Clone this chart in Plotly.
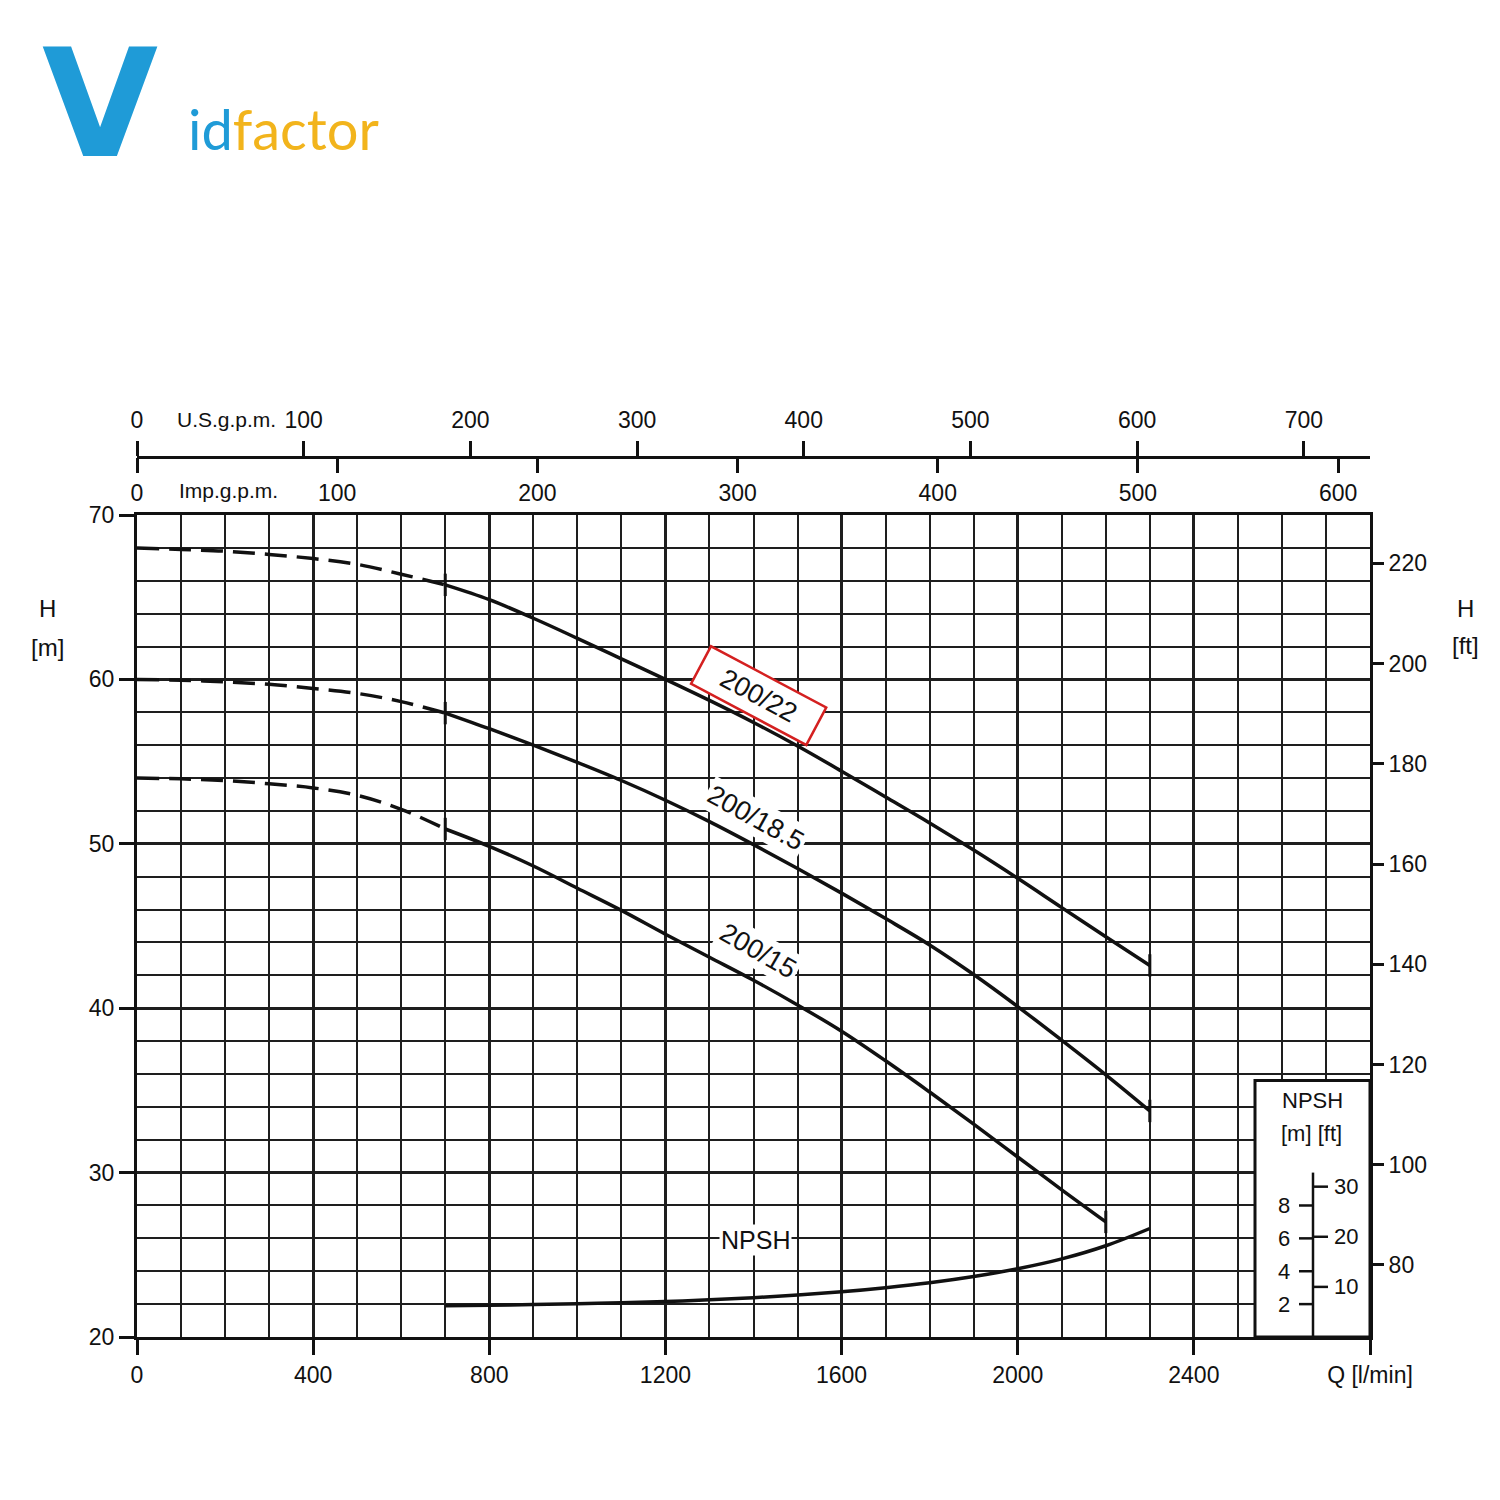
import plotly.graph_objects as go

# ---------------- data ----------------
LPM_PER_USGAL = 3.785411784
LPM_PER_IMPGAL = 4.54609
FT_PER_M = 3.28084

q_ext = [0, 100, 200, 300, 400, 500, 600, 700]
h22_ext = [68.0, 67.9, 67.8, 67.6, 67.35, 67.0, 66.4, 65.75]
h185_ext = [60.0, 59.95, 59.85, 59.7, 59.45, 59.15, 58.65, 57.95]
h15_ext = [54.0, 53.95, 53.85, 53.65, 53.4, 52.95, 52.1, 50.9]

q_op = [700, 800, 900, 1000, 1100, 1200, 1300, 1400, 1500, 1600,
        1700, 1800, 1900, 2000, 2100, 2200, 2300]
h22_op = [65.75, 64.85, 63.72, 62.5, 61.25, 60.0, 58.72, 57.38, 55.95, 54.42,
          52.85, 51.27, 49.62, 47.9, 46.12, 44.35, 42.6]
h185_op = [57.95, 57.0, 56.0, 54.95, 53.85, 52.65, 51.35, 49.95, 48.5, 47.0,
           45.45, 43.85, 42.05, 40.1, 38.05, 35.95, 33.75]
q_op15 = [700, 800, 900, 1000, 1100, 1200, 1300, 1400, 1500, 1600,
          1700, 1800, 1900, 2000, 2100, 2200]
h15_op = [50.9, 49.85, 48.65, 47.3, 45.95, 44.5, 43.1, 41.7, 40.2, 38.6,
          36.8, 34.9, 32.95, 30.95, 28.95, 27.0]

npsh_m = [1.9, 1.93, 1.97, 2.02, 2.08, 2.16, 2.26, 2.39, 2.55, 2.75,
          3.0, 3.3, 3.68, 4.15, 4.75, 5.55, 6.6]

curve_names = ["200/22", "200/18.5", "200/15"]

q_ticks = [0, 400, 800, 1200, 1600, 2000, 2400, 2800]
q_ticktext = ["0", "400", "800", "1200", "1600", "2000", "2400", "Q [l/min]"]
h_ticks = [20, 30, 40, 50, 60, 70]
ft_ticks = [80, 100, 120, 140, 160, 180, 200, 220]
usg_ticks = [0, 100, 200, 300, 400, 500, 600, 700]
impg_ticks = [0, 100, 200, 300, 400, 500, 600]
npsh_m_ticks = [2, 4, 6, 8]
npsh_ft_ticks = [10, 20, 30]

Q_MAX = 2800
H_MIN, H_MAX = 20, 70

FONT = "Liberation Sans, Arial, sans-serif"
INK = "#111111"
GRID = "#1e1e1e"

fig = go.Figure()

ext_sets = [h22_ext, h185_ext, h15_ext]
op_sets = [(q_op, h22_op), (q_op, h185_op), (q_op15, h15_op)]

for name, hext, (qo, ho) in zip(curve_names, ext_sets, op_sets):
    fig.add_trace(go.Scatter(x=q_ext, y=hext, mode="lines",
                             line=dict(color=INK, width=3.5, dash="22px,10px", shape="spline", smoothing=1.0),
                             showlegend=False, hoverinfo="skip", name=name))
    fig.add_trace(go.Scatter(x=qo, y=ho, mode="lines",
                             line=dict(color=INK, width=3.5, shape="spline", smoothing=1.0),
                             showlegend=False, name=name))
    fig.add_trace(go.Scatter(x=[qo[0], qo[-1]], y=[ho[0], ho[-1]], mode="markers",
                             marker=dict(symbol="line-ns", size=16, line=dict(color=INK, width=3)),
                             showlegend=False, hoverinfo="skip"))

# NPSH curve (own scale in metres; NPSH 0 aligned with H = 20 m)
fig.add_trace(go.Scatter(x=q_op, y=npsh_m, mode="lines", yaxis="y3",
                         line=dict(color=INK, width=3.5, shape="spline", smoothing=1.0),
                         showlegend=False, name="NPSH"))

# empty traces so the secondary axes are drawn
fig.add_trace(go.Scatter(x=[None], y=[None], xaxis="x2", yaxis="y", showlegend=False, hoverinfo="skip"))
fig.add_trace(go.Scatter(x=[None], y=[None], xaxis="x3", yaxis="y", showlegend=False, hoverinfo="skip"))
fig.add_trace(go.Scatter(x=[None], y=[None], xaxis="x", yaxis="y2", showlegend=False, hoverinfo="skip"))

# page layout (browser body has an 8px margin)
OFF = 8
W, H = 1500 - OFF, 1500 - OFF
PLOT_L, PLOT_R, PLOT_T, PLOT_B = 137, 1370, 515, 1337   # page px
AXTOP = 457                                              # gpm axis line, page px
ML = PLOT_L - OFF
MR = W + OFF - PLOT_R
MT = AXTOP - OFF
MB = H + OFF - PLOT_B
PW = W - ML - MR
PH = H - MT - MB
ydom_top = (PLOT_B - PLOT_T) / PH


def px_x(px):
    return (px - PLOT_L) / PW


def px_y(py):
    return (PLOT_B - py) / PH


tickfont = dict(family=FONT, size=23, color=INK)

fig.update_layout(
    width=W, height=H,
    margin=dict(l=ML, r=MR, t=MT, b=MB, pad=0),
    paper_bgcolor="white", plot_bgcolor="white",
    showlegend=False,
    xaxis=dict(range=[0, Q_MAX], domain=[0, 1], tickmode="array", tickvals=q_ticks, ticktext=q_ticktext,
               ticks="outside", ticklen=15, tickwidth=2.5, tickcolor=INK, tickfont=tickfont,
               ticklabelstandoff=0,
               showgrid=True, gridcolor=GRID, gridwidth=3,
               minor=dict(dtick=100, tick0=0, showgrid=True, gridcolor=GRID, gridwidth=2.3, ticks=""),
               showline=True, mirror=True, linecolor=INK, linewidth=3, zeroline=False, anchor="y"),
    yaxis=dict(range=[H_MIN, H_MAX], domain=[0, ydom_top], tickmode="array", tickvals=h_ticks,
               ticks="outside", ticklen=15, tickwidth=2.5, tickcolor=INK, tickfont=tickfont,
               ticklabelstandoff=0,
               showgrid=True, gridcolor=GRID, gridwidth=3,
               minor=dict(dtick=2, tick0=0, showgrid=True, gridcolor=GRID, gridwidth=2.3, ticks=""),
               showline=True, mirror=True, linecolor=INK, linewidth=3, zeroline=False, anchor="x"),
    yaxis2=dict(range=[H_MIN * FT_PER_M, H_MAX * FT_PER_M], overlaying="y", side="right", anchor="x",
                tickmode="array", tickvals=ft_ticks, ticks="outside", ticklen=13, tickwidth=2.5,
                tickcolor=INK, tickfont=tickfont, ticklabelstandoff=0,
                showgrid=False, showline=False, zeroline=False),
    yaxis3=dict(range=[0, H_MAX - H_MIN], overlaying="y", visible=False, anchor="x"),
    xaxis2=dict(range=[0, Q_MAX / LPM_PER_USGAL], overlaying="x", anchor="free", position=1, side="top",
                tickmode="array", tickvals=usg_ticks, ticks="outside", ticklen=15, tickwidth=2.5,
                tickcolor=INK, tickfont=tickfont, ticklabelstandoff=4,
                showgrid=False, showline=True, linecolor=INK, linewidth=2.5, zeroline=False),
    xaxis3=dict(range=[0, Q_MAX / LPM_PER_IMPGAL], overlaying="x", anchor="free", position=1, side="bottom",
                tickmode="array", tickvals=impg_ticks, ticks="outside", ticklen=15, tickwidth=2.5,
                tickcolor=INK, tickfont=tickfont, ticklabelstandoff=0,
                showgrid=False, showline=False, zeroline=False),
)

shapes = []
annotations = []


def label(x, y, text, size=22, xref="paper", yref="paper", xanchor="center", **kw):
    d = dict(xref=xref, yref=yref, x=x, y=y, text=text, showarrow=False,
             xanchor=xanchor, yanchor="middle", font=dict(family=kw.pop("family", FONT), size=size,
                                                           color=kw.pop("color", INK)))
    d.update(kw)
    annotations.append(d)


# NPSH inset box
inset_left = px_x(1255)
inset_axis = px_x(1313)
shapes.append(dict(type="rect", xref="paper", yref="y3", x0=inset_left, x1=1, y0=0, y1=15.6,
                   fillcolor="white", line=dict(color=INK, width=3), layer="above"))
shapes.append(dict(type="line", xref="paper", yref="y3", x0=inset_axis, x1=inset_axis, y0=0, y1=10,
                   line=dict(color=INK, width=2.5), layer="above"))
for v in npsh_m_ticks:
    shapes.append(dict(type="line", xref="paper", yref="y3", x0=px_x(1299), x1=inset_axis, y0=v, y1=v,
                       line=dict(color=INK, width=2.5), layer="above"))
    label(px_x(1284), v, str(v), size=22, yref="y3")
for f in npsh_ft_ticks:
    m = f / FT_PER_M
    shapes.append(dict(type="line", xref="paper", yref="y3", x0=inset_axis, x1=px_x(1328), y0=m, y1=m,
                       line=dict(color=INK, width=2.5), layer="above"))
    label(px_x(1332), m, str(f), size=22, yref="y3", xanchor="left")
label(px_x(1312), px_y(1100), "NPSH", size=22)
label(px_x(1311), px_y(1133), "[m] [ft]", size=22)

# curve labels (data coordinates)
label(1411, 59.0, "200/22", size=27, xref="x", yref="y", textangle=28, bgcolor="white",
      bordercolor="#d42020", borderwidth=2.5, borderpad=3, width=122, height=34)
label(1405, 51.55, "200/18.5", size=27, xref="x", yref="y", textangle=29, bgcolor="white", borderpad=2)
label(1411, 43.5, "200/15", size=27, xref="x", yref="y", textangle=30, bgcolor="white", borderpad=2)
label(1405, 25.9, "NPSH", size=25, xref="x", yref="y", bgcolor="white", borderpad=1)

# axis titles
label(px_x(47), px_y(608), "H", size=24)
label(px_x(47), px_y(647), "[m]", size=24)
label(px_x(1465), px_y(608), "H", size=24)
label(px_x(1465), px_y(645), "[ft]", size=24)
label(px_x(226), px_y(419), "U.S.g.p.m.", size=21)
label(px_x(228), px_y(490), "Imp.g.p.m.", size=21)

# logo
label(px_x(100), px_y(104), "<b>V</b>", size=150, family="DejaVu Sans", color="#1f9bd7")
label(px_x(186), px_y(128),
      "<span style='color:#1f9bd7'>id</span><span style='color:#f2b41c'>factor</span>",
      size=56, family="Lato", color="#f2b41c", xanchor="left")

fig.update_layout(shapes=shapes, annotations=annotations)

fig.write_html("out.html")
